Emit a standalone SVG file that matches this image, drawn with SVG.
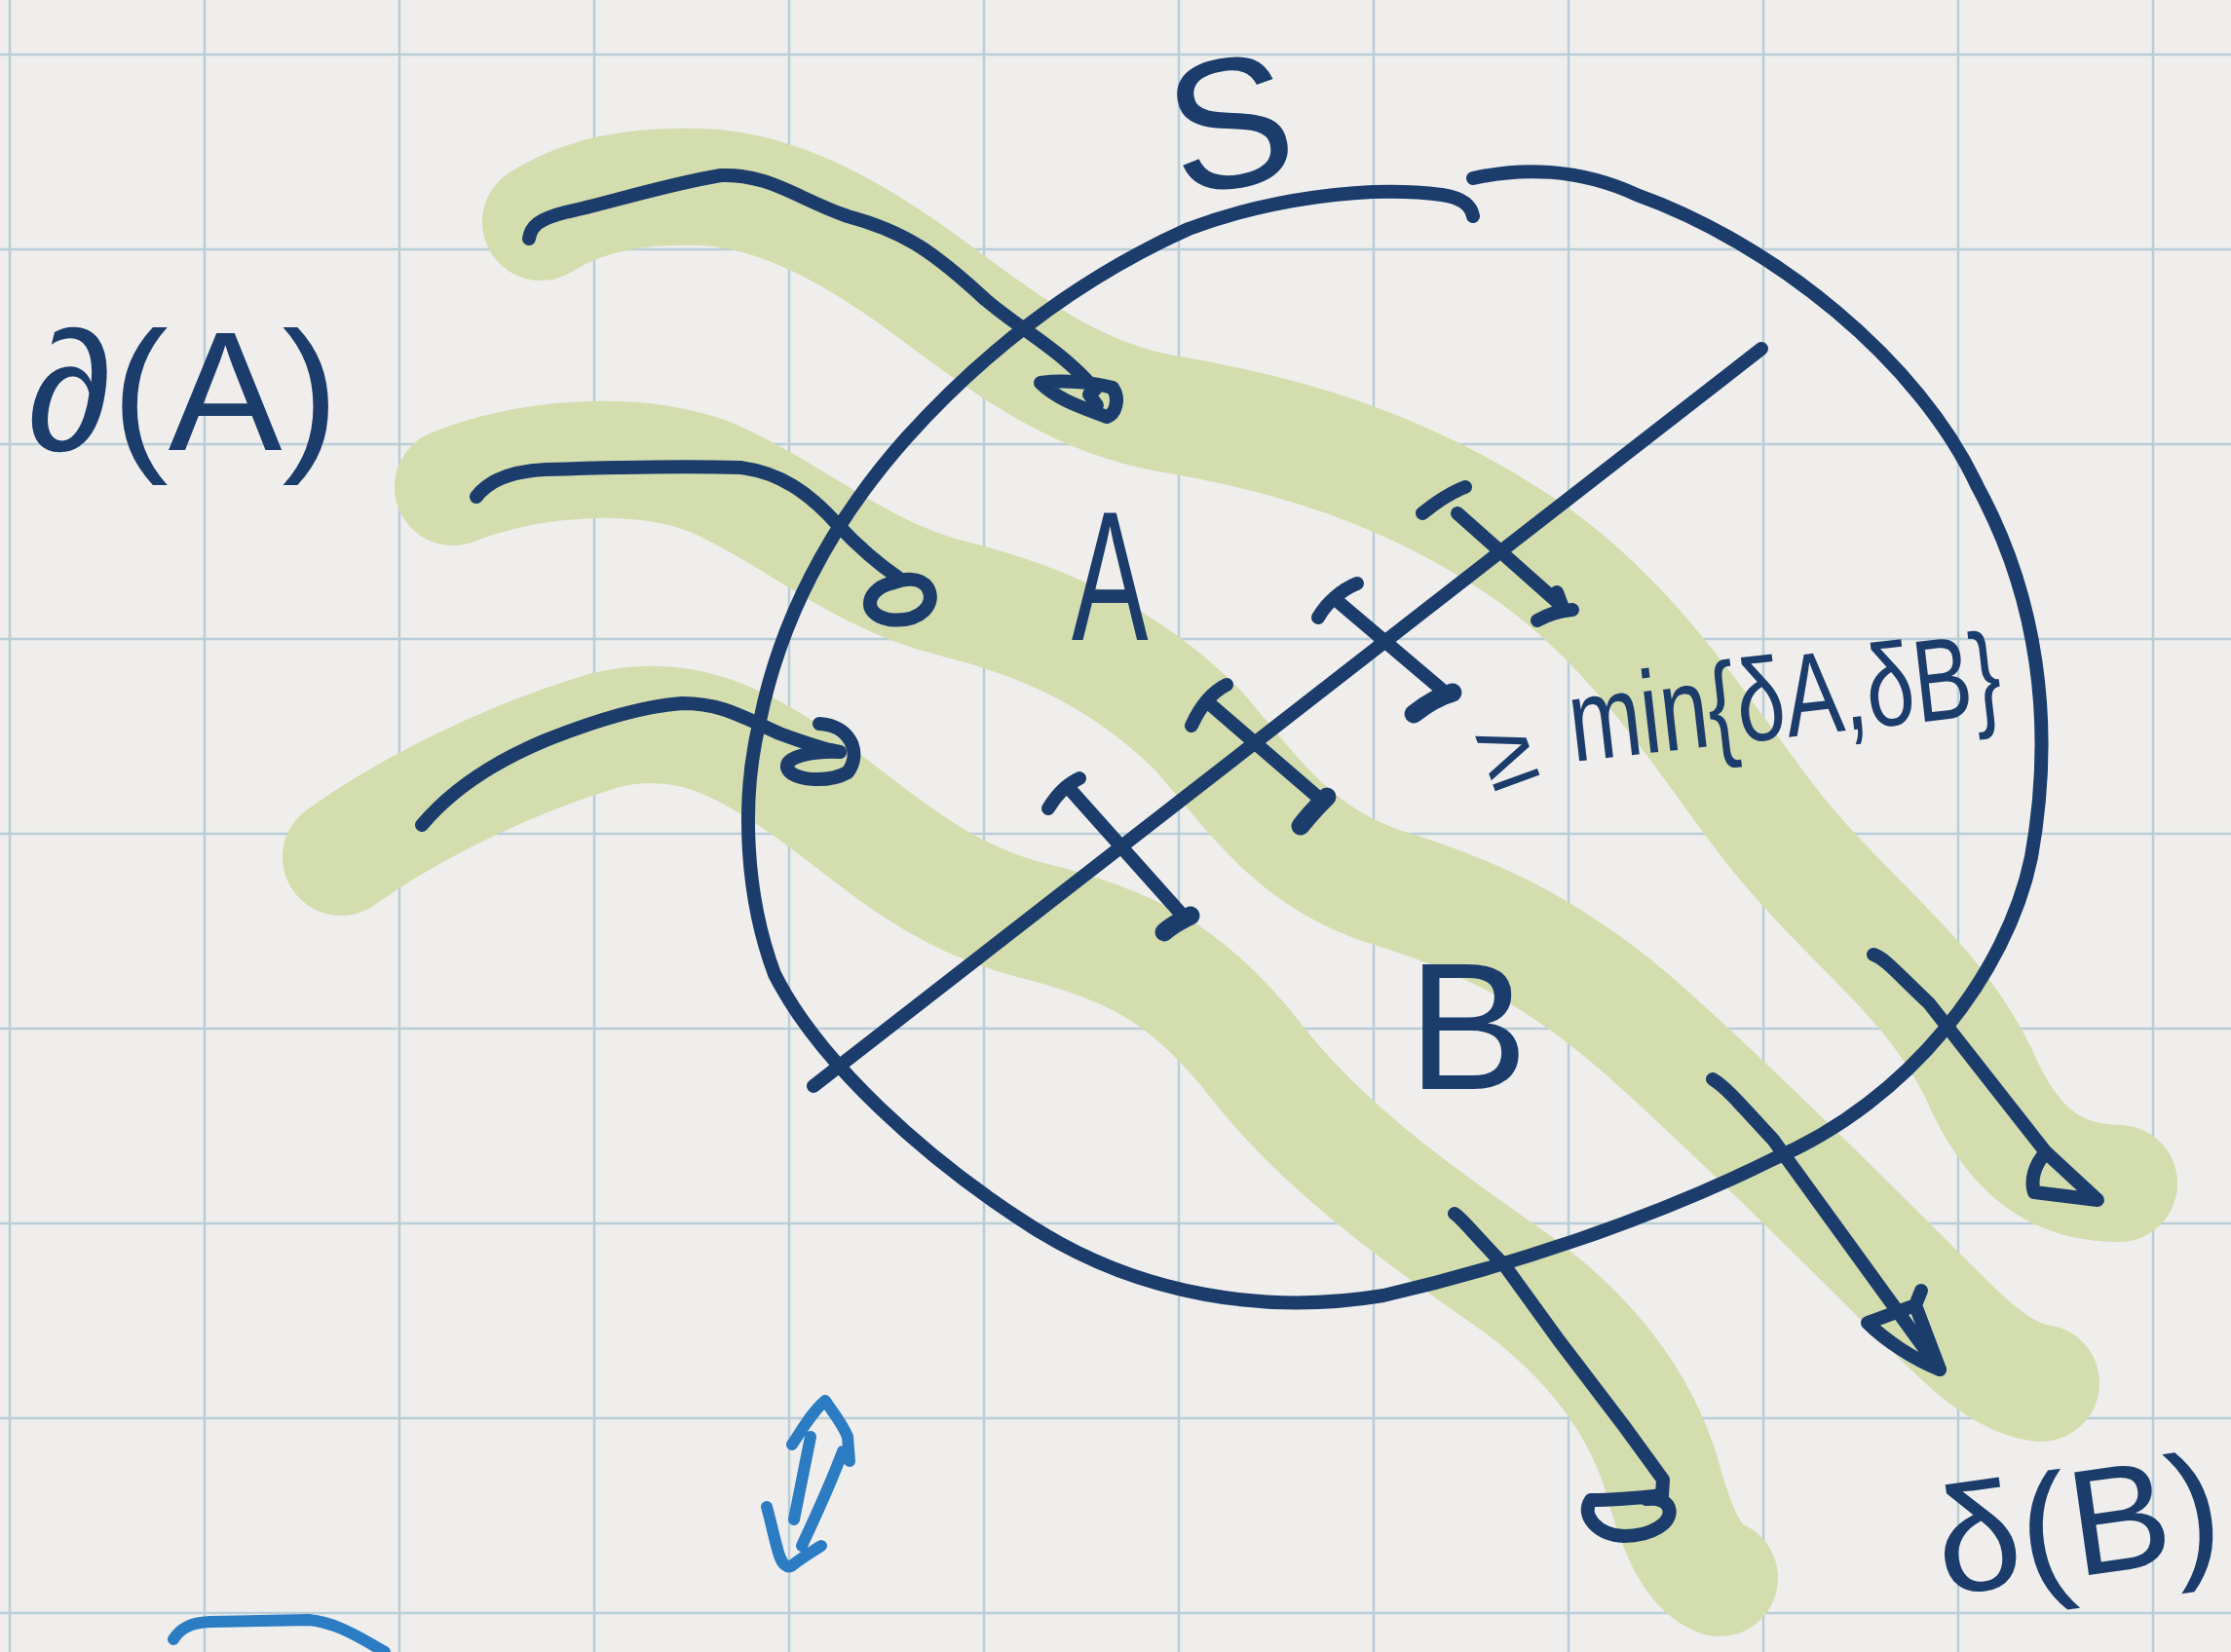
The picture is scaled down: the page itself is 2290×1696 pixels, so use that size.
<svg xmlns="http://www.w3.org/2000/svg" width="2290" height="1696" viewBox="0 0 2290 1696">
<style>
.grid line{stroke:#b9cdd8;stroke-width:2.5}
.band{fill:none;stroke:#d3ddae;stroke-width:120;stroke-linecap:round;stroke-linejoin:round}
.ink{fill:none;stroke:#1c3d6c;stroke-width:14;stroke-linecap:round;stroke-linejoin:round}
.thick{stroke-width:19}
.blue{fill:none;stroke:#2b7cc3;stroke-width:12;stroke-linecap:round;stroke-linejoin:round}
.lbl{font-family:"Liberation Sans","DejaVu Sans",sans-serif;fill:#1c3d6c}
</style>
<rect width="2290" height="1696" fill="#efeeec"/>
<g class="grid" id="grid">
<line x1="10" y1="0" x2="10" y2="1696"/><line x1="210" y1="0" x2="210" y2="1696"/><line x1="410" y1="0" x2="410" y2="1696"/><line x1="610" y1="0" x2="610" y2="1696"/><line x1="810" y1="0" x2="810" y2="1696"/><line x1="1010" y1="0" x2="1010" y2="1696"/><line x1="1210" y1="0" x2="1210" y2="1696"/><line x1="1410" y1="0" x2="1410" y2="1696"/><line x1="1610" y1="0" x2="1610" y2="1696"/><line x1="1810" y1="0" x2="1810" y2="1696"/><line x1="2010" y1="0" x2="2010" y2="1696"/><line x1="2210" y1="0" x2="2210" y2="1696"/>
<line x1="0" y1="56" x2="2290" y2="56"/><line x1="0" y1="256" x2="2290" y2="256"/><line x1="0" y1="456" x2="2290" y2="456"/><line x1="0" y1="656" x2="2290" y2="656"/><line x1="0" y1="856" x2="2290" y2="856"/><line x1="0" y1="1056" x2="2290" y2="1056"/><line x1="0" y1="1256" x2="2290" y2="1256"/><line x1="0" y1="1456" x2="2290" y2="1456"/><line x1="0" y1="1656" x2="2290" y2="1656"/>
</g>
<g id="bands">
<path class="band" d="M555,228 C600,200 650,190 720,192 C800,195 880,240 960,300 C1040,360 1110,410 1200,425 C1320,445 1440,480 1560,560 C1680,640 1750,760 1820,850 C1900,950 1980,1000 2030,1100 C2060,1170 2100,1215 2175,1215"/>
<path class="band" d="M465,500 C540,470 650,460 730,490 C820,530 880,590 980,615 C1080,640 1160,680 1230,750 C1290,820 1330,880 1420,910 C1520,940 1600,980 1690,1060 C1790,1150 1900,1260 1990,1350 C2030,1390 2060,1415 2095,1420"/>
<path class="band" d="M350,880 C420,830 520,780 620,750 C700,730 760,760 830,810 C900,860 960,920 1060,945 C1160,970 1220,1000 1290,1090 C1360,1180 1460,1250 1560,1320 C1640,1380 1690,1450 1710,1530 C1725,1580 1740,1610 1765,1620"/>
</g>
<g id="region-S">
<path class="ink" d="M1512,183 C1560,172 1620,172 1680,200 C1820,250 1970,370 2030,500 C2090,610 2110,740 2085,880 C2060,1000 1960,1130 1820,1190 C1700,1250 1550,1300 1420,1330 C1300,1350 1170,1330 1060,1260 C950,1190 840,1090 795,1000 C765,920 760,820 780,740 C800,640 850,540 930,450 C1020,350 1120,280 1220,235 C1300,205 1400,190 1480,200 C1500,203 1510,210 1512,222"/>
</g>
<g id="cut-line">
<path class="ink" d="M835,1115 L1808,358"/>
</g>
<g id="connectors">
<path class="ink" d="M543,245 C545,232 553,225 580,218 C620,210 680,190 740,180 C790,178 820,205 870,222 C930,238 960,260 1012,308 C1050,340 1090,360 1124,400"/>
<path class="ink" d="M1068,393 C1090,390 1120,392 1142,398 C1150,410 1145,425 1136,428 C1110,418 1085,410 1068,393 Z M1118,405 L1126,416"/>
<path class="ink" d="M489,510 C500,495 520,484 560,482 C620,480 700,478 760,480 C800,485 830,505 861,540 C880,560 900,578 922,593"/>
<path class="ink" d="M918,598 C890,603 882,630 912,636 C945,640 962,620 952,603 C944,592 928,594 918,598 Z"/>
<path class="ink" d="M433,847 C460,815 500,785 560,760 C610,740 660,725 700,722 C740,722 760,735 800,753 C830,764 850,770 862,772"/>
<path class="ink" d="M841,743 C873,745 885,773 870,793 C850,804 812,802 808,788 C806,775 840,771 862,772"/>
<path class="ink" d="M1923,980 C1935,984 1948,1000 1980,1030 C2010,1068 2050,1120 2100,1183"/>
<path class="ink" d="M2100,1183 C2088,1196 2084,1212 2088,1224 L2153,1232 Z"/>
<path class="ink" d="M1758,1108 C1772,1116 1792,1140 1820,1170 L1991,1406"/>
<path class="ink" d="M1972,1325 L1966,1340 L1917,1358 C1935,1376 1965,1396 1991,1406 L1966,1340"/>
<path class="ink" d="M1493,1246 C1500,1250 1510,1264 1545,1300 L1600,1376 L1667,1464 L1707,1519 L1706,1535"/>
<path class="ink" d="M1706,1535 C1680,1538 1655,1540 1633,1540 C1622,1556 1640,1576 1667,1577 C1695,1577 1718,1563 1713,1548 C1710,1540 1700,1538 1690,1539"/>
<path class="ink" d="M1076,830 C1085,815 1095,805 1108,799 M1098,810 L1214,940"/>
<path class="ink thick" d="M1195,957 C1205,948 1215,944 1222,940"/>
<path class="ink" d="M1223,745 C1232,725 1245,710 1259,703 M1241,722 L1357,822"/>
<path class="ink thick" d="M1335,848 C1345,835 1355,825 1362,818"/>
<path class="ink" d="M1353,634 C1362,618 1378,605 1393,599 M1375,619 L1487,714"/>
<path class="ink thick" d="M1451,733 C1465,722 1480,714 1491,711"/>
<path class="ink" d="M1460,527 C1475,515 1490,505 1504,500 M1496,527 L1603,622 M1598,608 L1604,624 M1578,637 C1590,630 1602,627 1614,626"/>
</g>
<g id="label-dA"><text class="lbl" x="28" y="462" font-size="175">∂(A)</text></g>
<g id="label-S"><text class="lbl" x="1262" y="192" font-size="190" text-anchor="middle" transform="rotate(-10 1262 125)">S</text></g>
<g id="label-A"><text class="lbl" font-size="190" transform="translate(1100,657) scale(0.62,1)">A</text></g>
<g id="label-B"><text class="lbl" x="1445" y="1118" font-size="185">B</text></g>
<g id="label-min">
<text class="lbl" x="1518" y="805" font-size="100" transform="rotate(-20 1548 770)">≥</text>
<text class="lbl" x="1615" y="782" font-size="120" textLength="445" lengthAdjust="spacingAndGlyphs" transform="rotate(-6.5 1615 782)">min{δA,δB}</text>
</g>
<g id="label-dB"><text class="lbl" x="1995" y="1638" font-size="155" transform="rotate(-8 1995 1638)">δ(B)</text></g>
<g id="blue-marks">
<path class="blue" d="M815,1560 L832,1475 M813,1483 C825,1465 835,1448 847,1438 C855,1450 865,1462 870,1475 L872,1500 M865,1490 C852,1525 838,1555 823,1587 M787,1547 C792,1565 796,1585 800,1597 C803,1606 808,1610 812,1608 C822,1600 835,1592 843,1587"/>
<path class="blue" d="M178,1683 C185,1672 195,1666 215,1665 L317,1663 C340,1665 360,1675 395,1696"/>
</g>
</svg>
